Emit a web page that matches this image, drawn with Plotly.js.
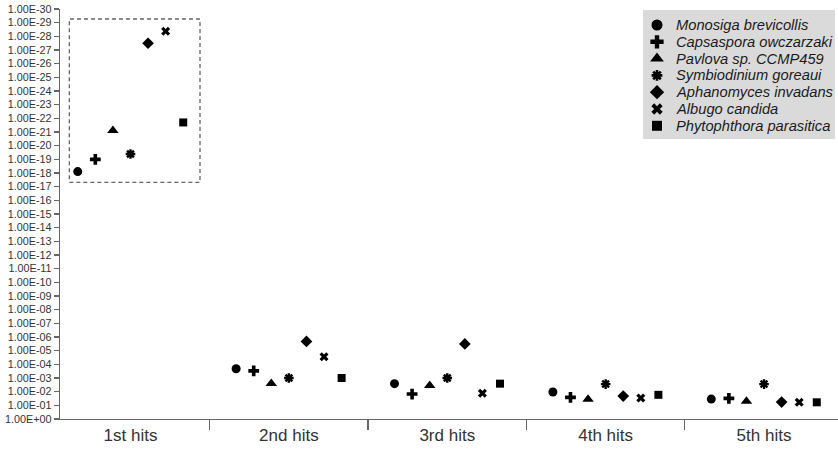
<!DOCTYPE html>
<html>
<head>
<meta charset="utf-8">
<script src="https://cdn.plot.ly/plotly-3.0.1.min.js"></script>
<style>html,body{margin:0;padding:0;background:#fff;}#chart{width:838px;height:453px;}</style>
</head>
<body>
<div id="chart"></div>
<script>
// ---- data ----
var categories = ["1st hits", "2nd hits", "3rd hits", "4th hits", "5th hits"];
var species = ["Monosiga brevicollis", "Capsaspora owczarzaki", "Pavlova sp. CCMP459",
               "Symbiodinium goreaui", "Aphanomyces invadans", "Albugo candida", "Phytophthora parasitica"];
var monosiga     = [7.9e-19, 2.1e-4, 2.6e-3, 1.05e-2, 3.5e-2];
var capsaspora   = [1.0e-19, 3.0e-4, 1.5e-2, 2.6e-2, 3.1e-2];
var pavlova      = [7.9e-22, 2.5e-3, 3.6e-3, 3.6e-2, 5.1e-2];
var symbiodinium = [4.1e-20, 1.0e-3, 1.0e-3, 2.8e-3, 2.8e-3];
var aphanomyces  = [3.2e-28, 2.1e-6, 3.2e-6, 2.1e-2, 5.8e-2];
var albugo       = [4.2e-29, 2.8e-5, 1.3e-2, 2.9e-2, 6.0e-2];
var phytophthora = [2.0e-22, 1.0e-3, 2.6e-3, 1.7e-2, 6.0e-2];
var tickExponents = [];
for (var k = 0; k <= 30; k++) tickExponents.push(k);

// ---- styles ----
var seriesValues = [monosiga, capsaspora, pavlova, symbiodinium, aphanomyces, albugo, phytophthora];
var symbols = ["circle", "cross", "triangle-up", "asterisk-open", "diamond", "x", "square"];
var sizes   = [9, 9, 10, 8, 9, 8, 8];
var legSizes = [11, 11, 12, 9, 11, 10, 10];
var offsetStep = 0.111;

var traces = [];
seriesValues.forEach(function (vals, j) {
  var xs = categories.map(function (c, i) { return i + (j - 3) * offsetStep; });
  var isAst = symbols[j] === "asterisk-open";
  traces.push({
    type: "scatter", mode: "markers", name: species[j], showlegend: false,
    x: xs, y: vals, text: categories,
    marker: { symbol: symbols[j], size: sizes[j], color: "#000",
      line: { color: "#000", width: isAst ? 2.4 : 0 } },
    hoverinfo: "name+y"
  });
});

// custom compact legend: symbols on an overlay pixel-like axis
var legX = 657, legTextX = 674, legY0 = 25, legStep = 16.8;
species.forEach(function (name, j) {
  var isAst = symbols[j] === "asterisk-open";
  traces.push({
    type: "scatter", mode: "markers", xaxis: "x2", yaxis: "y2", showlegend: false, hoverinfo: "skip",
    x: [legX], y: [legY0 + j * legStep],
    marker: { symbol: symbols[j], size: legSizes[j], color: "#000",
      line: { color: "#000", width: isAst ? 2.6 : 0 } }
  });
});

var tickvals = tickExponents.map(function (e) { return Math.pow(10, -e); });
var ticktext = tickExponents.map(function (e) {
  return "1.00E" + (e === 0 ? "+00" : "-" + (e < 10 ? "0" + e : e));
});

var annotations = species.map(function (name, j) {
  return { xref: "x2", yref: "y2", x: legTextX, y: legY0 + j * legStep, text: name,
    showarrow: false, xanchor: "left", yanchor: "middle",
    font: { family: "Liberation Sans, Arial, sans-serif", size: 14.7, color: "#1a1a1a", style: "italic" } };
});

var layout = {
  width: 838, height: 453,
  margin: { l: 60, r: 0, t: 9, b: 34 },
  paper_bgcolor: "#fff", plot_bgcolor: "rgba(0,0,0,0)",
  showlegend: false,
  font: { family: "Liberation Sans, Arial, sans-serif", color: "#333" },
  xaxis: {
    range: [-0.445, 4.467], showgrid: false, zeroline: false,
    showline: true, linecolor: "#666", linewidth: 1.3,
    tickmode: "array", tickvals: categories.map(function (c, i) { return i; }), ticktext: categories,
    ticks: "", tickfont: { size: 17, color: "#333" },
    minor: { tickmode: "array", tickvals: [0.5, 1.5, 2.5, 3.5, 4.5], ticks: "outside",
      ticklen: 10, tickcolor: "#666", tickwidth: 1.3, showgrid: false }
  },
  yaxis: {
    type: "log", range: [0, -30], autorange: false,
    showgrid: false, zeroline: false, showline: true, linecolor: "#666", linewidth: 1.3,
    tickmode: "array", tickvals: tickvals, ticktext: ticktext,
    ticks: "outside", ticklen: 5, tickcolor: "#666", tickwidth: 1.3,
    tickfont: { size: 10.8, color: "#333" }
  },
  xaxis2: { overlaying: "x", range: [60, 838], visible: false, fixedrange: true },
  yaxis2: { overlaying: "y", range: [419, 9], visible: false, fixedrange: true },
  shapes: [
    { type: "rect", xref: "x", yref: "paper", x0: -0.386, x1: 0.439, y0: 17.32 / 30, y1: 29.27 / 30,
      line: { color: "#666", width: 1.3, dash: "4px,3px" }, fillcolor: "rgba(0,0,0,0)" },
    { type: "rect", xref: "x2", yref: "y2", x0: 643, x1: 835, y0: 10, y1: 139,
      line: { width: 0 }, fillcolor: "#dadada", layer: "below" }
  ],
  annotations: annotations
};

Plotly.newPlot("chart", traces, layout, { staticPlot: true, displayModeBar: false });
</script>
</body>
</html>
